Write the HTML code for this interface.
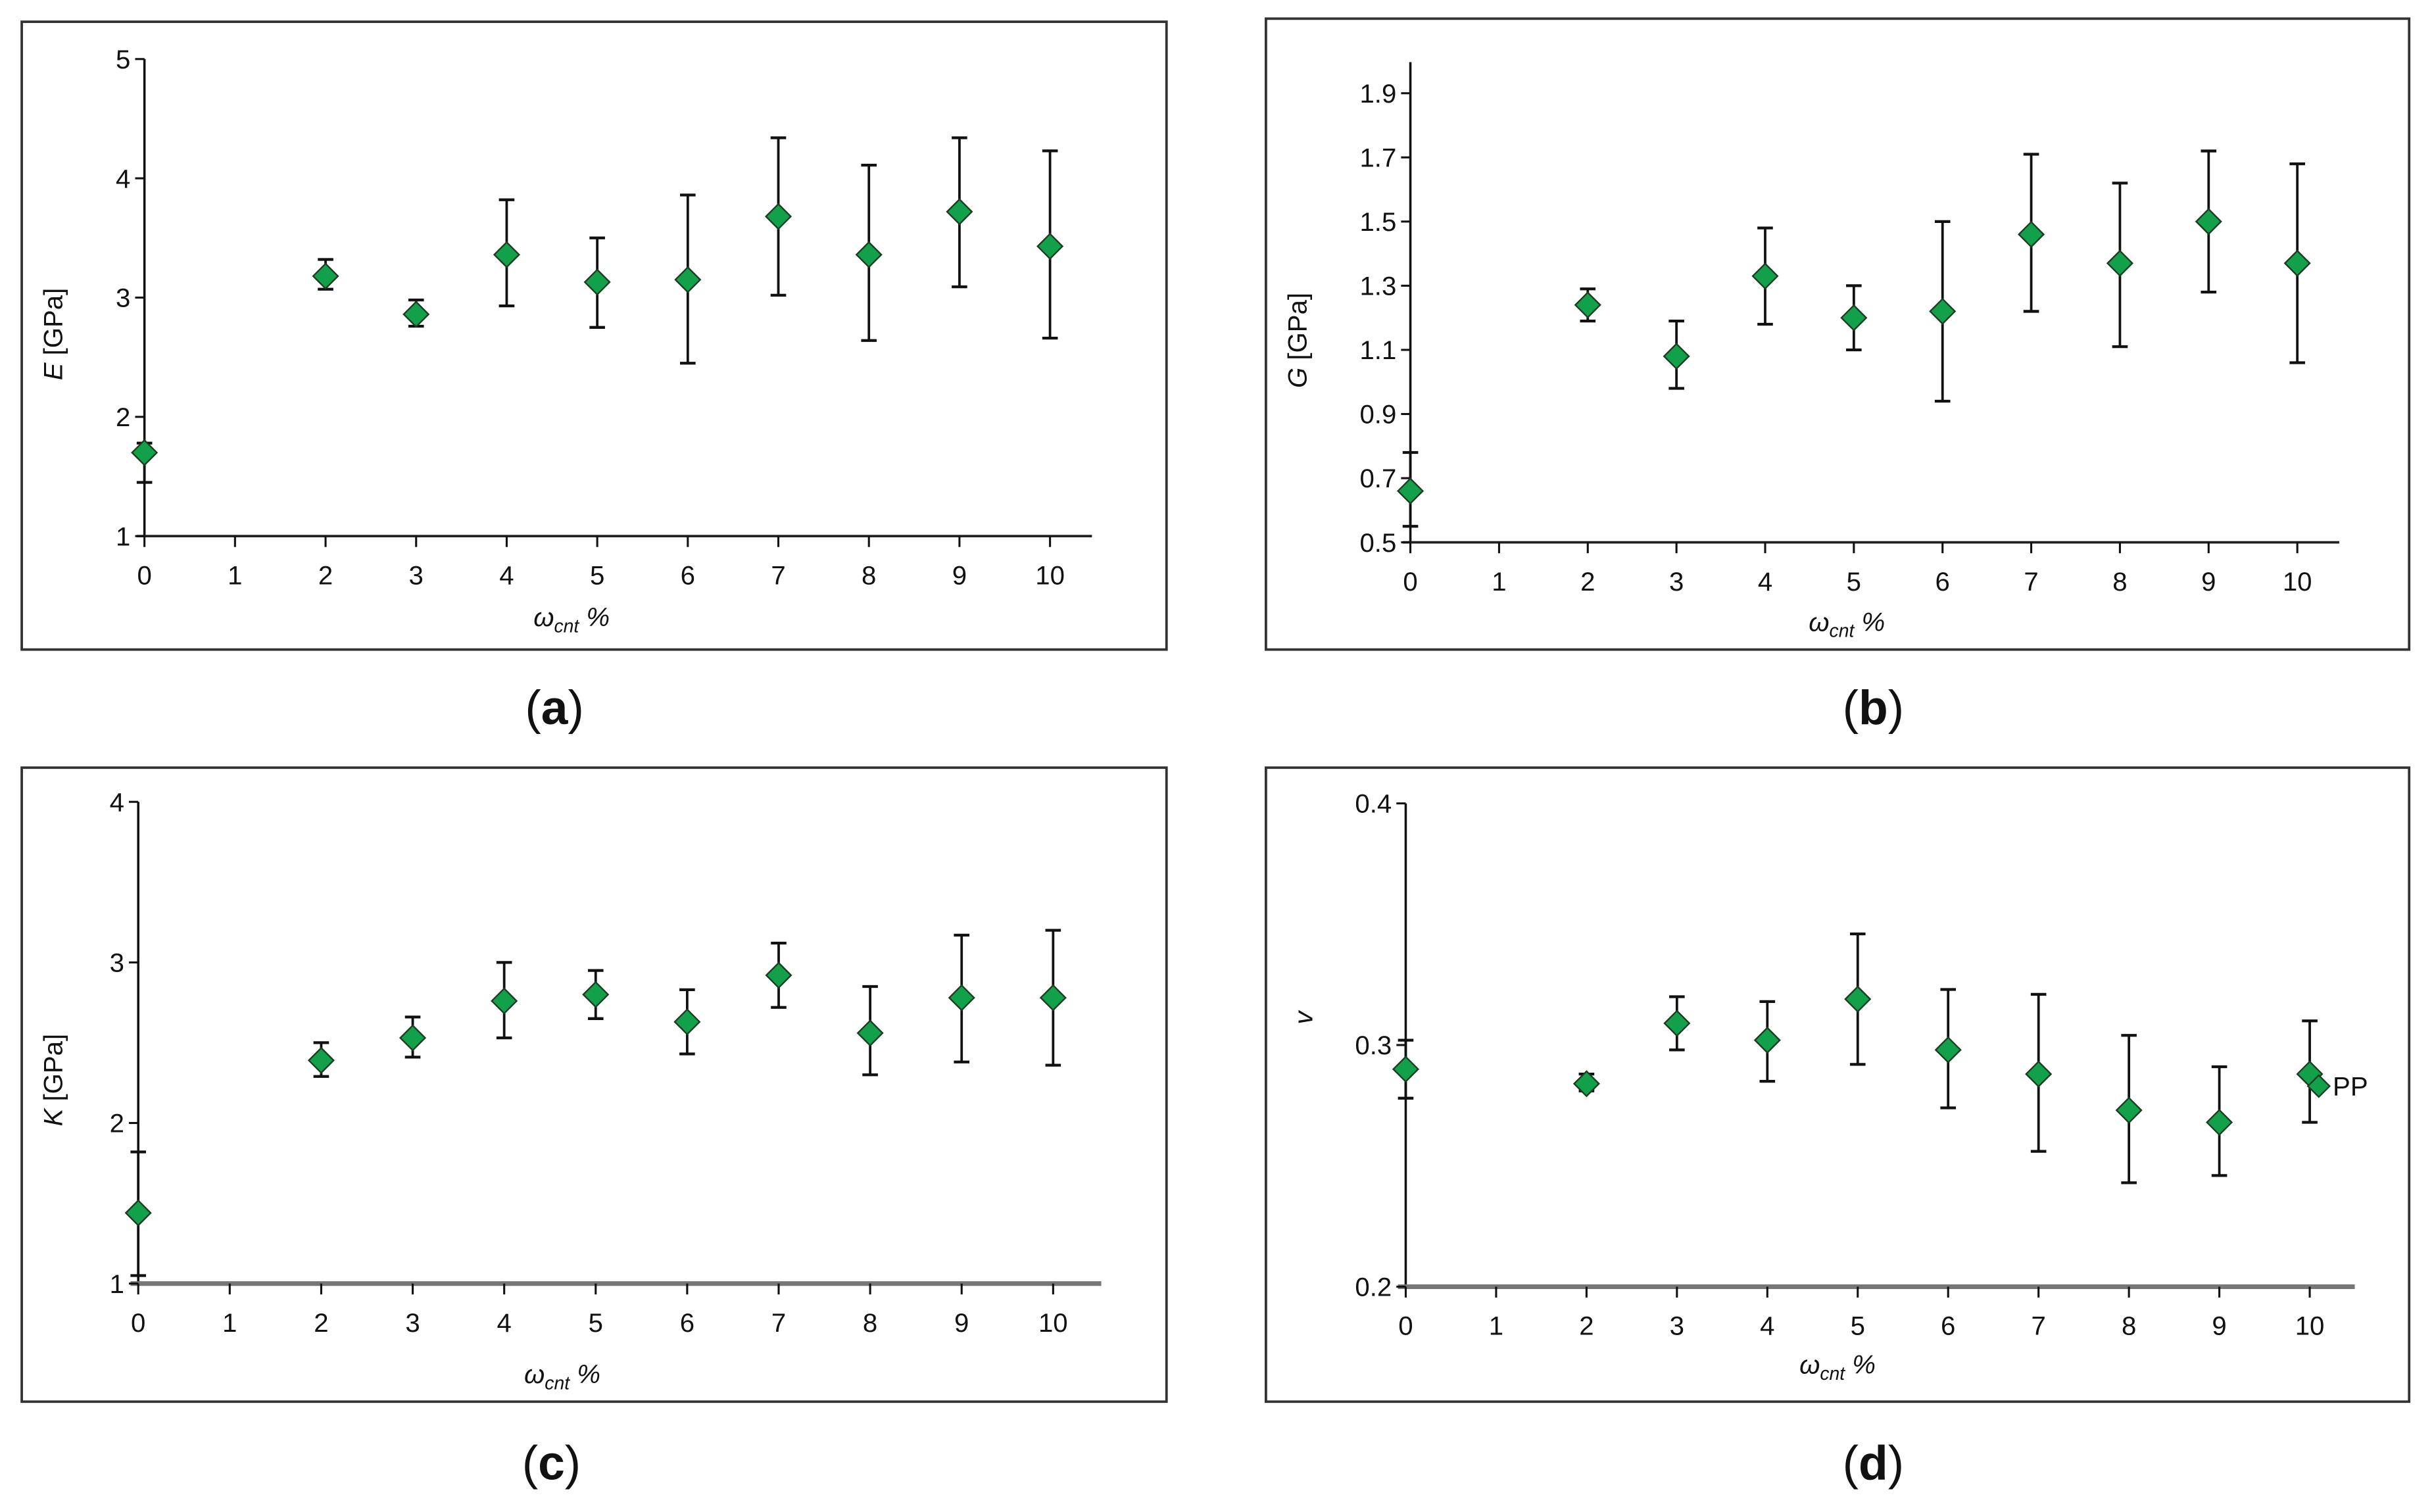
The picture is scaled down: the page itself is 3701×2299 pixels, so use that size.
<!DOCTYPE html>
<html><head><meta charset="utf-8"><style>
html,body{margin:0;padding:0;background:#fff;}
svg{display:block;}
text{font-family:"Liberation Sans",Arial,sans-serif;fill:#111;}
</style></head><body>
<svg id="fig" width="3701" height="2299" viewBox="0 0 1567 973" preserveAspectRatio="none" xmlns="http://www.w3.org/2000/svg"></svg>
<script>
const xCats = [0, 2, 3, 4, 5, 6, 7, 8, 9, 10];
const xTickLabels = [0, 1, 2, 3, 4, 5, 6, 7, 8, 9, 10];
const eVals = [1.70, 3.18, 2.86, 3.36, 3.13, 3.15, 3.68, 3.36, 3.72, 3.43];
const eLow  = [1.45, 3.07, 2.76, 2.93, 2.75, 2.45, 3.02, 2.64, 3.09, 2.66];
const eHigh = [1.78, 3.32, 2.98, 3.82, 3.50, 3.86, 4.34, 4.11, 4.34, 4.23];
const eTicks = [1, 2, 3, 4, 5];
const gVals = [0.66, 1.24, 1.08, 1.33, 1.20, 1.22, 1.46, 1.37, 1.50, 1.37];
const gLow  = [0.55, 1.19, 0.98, 1.18, 1.10, 0.94, 1.22, 1.11, 1.28, 1.06];
const gHigh = [0.78, 1.29, 1.19, 1.48, 1.30, 1.50, 1.71, 1.62, 1.72, 1.68];
const gTicks = [0.5, 0.7, 0.9, 1.1, 1.3, 1.5, 1.7, 1.9];
const kVals = [1.44, 2.39, 2.53, 2.76, 2.80, 2.63, 2.92, 2.56, 2.78, 2.78];
const kLow  = [1.05, 2.29, 2.41, 2.53, 2.65, 2.43, 2.72, 2.30, 2.38, 2.36];
const kHigh = [1.82, 2.50, 2.66, 3.00, 2.95, 2.83, 3.12, 2.85, 3.17, 3.20];
const kTicks = [1, 2, 3, 4];
const vVals = [0.290, 0.284, 0.309, 0.302, 0.319, 0.298, 0.288, 0.273, 0.268, 0.288];
const vLow  = [0.278, 0.281, 0.298, 0.285, 0.292, 0.274, 0.256, 0.243, 0.246, 0.268];
const vHigh = [0.302, 0.288, 0.320, 0.318, 0.346, 0.323, 0.321, 0.304, 0.291, 0.310];
const vTicks = [0.2, 0.3, 0.4];
const ppX = [10.1];
const ppVal = [0.283];

const NS = "http://www.w3.org/2000/svg";
const svg = document.getElementById('fig');
function mk(tag, attrs, parent, txt) {
  const el = document.createElementNS(NS, tag);
  for (const k in attrs) el.setAttribute(k, attrs[k]);
  if (txt !== undefined) el.textContent = txt;
  (parent || svg).appendChild(el);
  return el;
}
function diamond(g, cx, cy, r) {
  return mk('polygon', {points: `${cx},${cy-r} ${cx+r},${cy} ${cx},${cy+r} ${cx-r},${cy}`, fill: '#12a14a', stroke: '#1d3b22', 'stroke-width': 1}, g);
}
function panel(cfg) {
  const g = mk('g', {});
  
  
  const fr = mk('rect', {x: cfg.box[0], y: cfg.box[1], width: cfg.box[2]-cfg.box[0], height: cfg.box[3]-cfg.box[1], fill: 'none', stroke: '#333', 'stroke-width': 1.6}, g);
  
  
  const xs = v => cfg.x0 + (v - 0) * (cfg.x10 - cfg.x0) / 10;
  const ys = v => cfg.yBot + (v - cfg.yMin) * (cfg.yTop - cfg.yBot) / (cfg.yMax - cfg.yMin);
  const ya = mk('line', {x1: cfg.x0, y1: cfg.axTop, x2: cfg.x0, y2: cfg.yBot, stroke: '#111', 'stroke-width': 1.5}, g);
  
  
  const xa = mk('line', {x1: cfg.x0 - 5, y1: cfg.yBot, x2: cfg.xEnd, y2: cfg.yBot, stroke: cfg.xColor, 'stroke-width': cfg.xW}, g);
  
  
  cfg.ticks.forEach(t => {
    mk('line', {x1: cfg.x0 - 6, y1: ys(t), x2: cfg.x0, y2: ys(t), stroke: '#111', 'stroke-width': 1.3}, g);
    const tl = mk('text', {x: cfg.x0 - 9, y: ys(t) + 6, 'font-size': 17, 'text-anchor': 'end'}, g, cfg.fmt(t));
    
    
  });
  xTickLabels.forEach(t => {
    mk('line', {x1: xs(t), y1: cfg.yBot, x2: xs(t), y2: cfg.yBot + 7, stroke: '#111', 'stroke-width': 1.3}, g);
    const tl = mk('text', {x: xs(t), y: cfg.yBot + 31, 'font-size': 17, 'text-anchor': 'middle'}, g, String(t));
    
    
  });
  const xt = mk('text', {x: cfg.xTitle[0], y: cfg.xTitle[1], 'font-size': 17, 'font-style': 'italic', 'text-anchor': 'middle'}, g);
  
  
  mk('tspan', {}, xt, 'ω');
  mk('tspan', {'font-size': 12, dy: 4}, xt, 'cnt');
  mk('tspan', {dy: -4}, xt, ' %');
  const yt = mk('text', {x: cfg.yTitle[0], y: cfg.yTitle[1], 'font-size': 17, 'text-anchor': 'middle', transform: `rotate(-90 ${cfg.yTitle[0]} ${cfg.yTitle[1]})`}, g);
  
  
  mk('tspan', {'font-style': 'italic'}, yt, cfg.sym);
  if (cfg.unit) mk('tspan', {}, yt, ' ' + cfg.unit);
  xCats.forEach((c, i) => {
    const x = xs(c);
    const eb = mk('g', {}, g);
    
    
    mk('line', {x1: x, y1: ys(cfg.lo[i]), x2: x, y2: ys(cfg.hi[i]), stroke: '#111', 'stroke-width': 1.6}, eb);
    mk('line', {x1: x - 5, y1: ys(cfg.lo[i]), x2: x + 5, y2: ys(cfg.lo[i]), stroke: '#111', 'stroke-width': 1.8}, eb);
    mk('line', {x1: x - 5, y1: ys(cfg.hi[i]), x2: x + 5, y2: ys(cfg.hi[i]), stroke: '#111', 'stroke-width': 1.8}, eb);
    const d = diamond(g, x, ys(cfg.vals[i]), 8);
    
    
  });
  if (cfg.pp) {
    ppX.forEach((px, i) => {
      const d = diamond(g, xs(px), ys(ppVal[i]), 7);
      
      
      const t = mk('text', {x: xs(px) + 9, y: ys(ppVal[i]) + 6, 'font-size': 17}, g, 'PP');
      
      
    });
  }
  const cap = mk('text', {x: cfg.cap[0], y: cfg.cap[1], 'font-size': 31, 'text-anchor': 'middle'}, g);
  
  
  mk('tspan', {}, cap, '(');
  mk('tspan', {'font-weight': 'bold'}, cap, cfg.letter);
  mk('tspan', {}, cap, ')');
}
panel({name: 'panel-a-youngs-modulus', box: [14, 14, 751, 418], x0: 93, x10: 676, xEnd: 703, yBot: 345, yTop: 38, axTop: 38, yMin: 1, yMax: 5,
  ticks: eTicks, fmt: t => String(t), vals: eVals, lo: eLow, hi: eHigh, xColor: '#222', xW: 1.6,
  xTitle: [368, 403], yTitle: [40, 215], sym: 'E', unit: '[GPa]', cap: [357, 466], letter: 'a'});
panel({name: 'panel-b-shear-modulus', box: [815, 12, 1551, 418], x0: 908, x10: 1479, xEnd: 1506, yBot: 349, yTop: 60, axTop: 40, yMin: 0.5, yMax: 1.9,
  ticks: gTicks, fmt: t => t.toFixed(1), vals: gVals, lo: gLow, hi: gHigh, xColor: '#222', xW: 1.6,
  xTitle: [1189, 406], yTitle: [841, 219], sym: 'G', unit: '[GPa]', cap: [1206, 466], letter: 'b'});
panel({name: 'panel-c-bulk-modulus', box: [14, 494, 751, 902], x0: 89, x10: 678, xEnd: 709, yBot: 826, yTop: 516, axTop: 516, yMin: 1, yMax: 4,
  ticks: kTicks, fmt: t => String(t), vals: kVals, lo: kLow, hi: kHigh, xColor: '#777', xW: 3,
  xTitle: [362, 890], yTitle: [40, 695], sym: 'K', unit: '[GPa]', cap: [355, 952], letter: 'c'});
panel({name: 'panel-d-poisson-ratio', box: [815, 494, 1551, 902], x0: 905, x10: 1487, xEnd: 1516, yBot: 828, yTop: 517, axTop: 517, yMin: 0.2, yMax: 0.4,
  ticks: vTicks, fmt: t => t.toFixed(1), vals: vVals, lo: vLow, hi: vHigh, xColor: '#777', xW: 3, pp: true,
  xTitle: [1183, 884], yTitle: [845, 655], sym: 'v', unit: '', cap: [1206, 952], letter: 'd'});
</script>
</body></html>
